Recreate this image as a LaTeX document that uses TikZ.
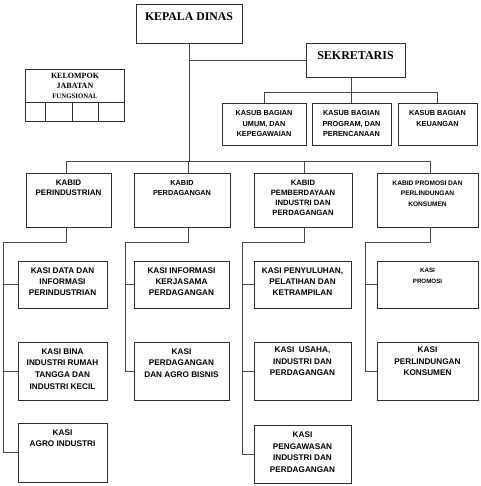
\documentclass[tikz,border=0pt]{standalone}
\usepackage{fontspec}
\setmainfont{Liberation Serif}
\setsansfont{Liberation Sans}
\usetikzlibrary{positioning,calc}
\definecolor{boxcol}{RGB}{45,45,45}
\definecolor{linecol}{RGB}{70,70,70}

\tikzset{
  box/.style={draw=boxcol,line width=0.8pt,fill=white,inner sep=0pt},
  conn/.style={draw=linecol,line width=0.8pt},
  lab/.style={align=center,inner sep=0pt,anchor=north},
  sans/.style 2 args={font=\sffamily\bfseries\fontsize{#1}{#2}\selectfont},
  serif/.style 2 args={font=\rmfamily\bfseries\fontsize{#1}{#2}\selectfont},
}

\begin{document}
\begin{tikzpicture}[x=1pt,y=-1pt]
  \useasboundingbox (0,0) rectangle (480,486);

  % top: kepala dinas and sekretaris
  \node[box,minimum width=106,minimum height=39,
        label={[lab,serif={11.8}{14},yshift=-8.4pt]north:KEPALA DINAS}] (kd) at (189,23.5) {};
  \node[box,minimum width=99,minimum height=34,
        label={[lab,serif={12}{14},yshift=-8.3pt]north:SEKRETARIS}] (sek) at (355.5,60) {};

  % kasub bagian
  \node[box,minimum width=84,minimum height=42,
        label={[lab,sans={7.3}{10.7},yshift=-7.7pt]north:{KASUB BAGIAN\\UMUM, DAN\\KEPEGAWAIAN}}] (sub1) at (264,124) {};
  \node[box,minimum width=79,minimum height=42,
        label={[lab,sans={7.3}{10.7},yshift=-7.7pt]north:{KASUB BAGIAN\\PROGRAM, DAN\\PERENCANAAN}}] (sub2) at (351.5,124) {};
  \node[box,minimum width=79,minimum height=42,
        label={[lab,sans={7.3}{10.7},yshift=-7.7pt]north:{KASUB BAGIAN\\KEUANGAN}}] (sub3) at (437.5,124) {};

  % kelompok jabatan fungsional
  \node[box,minimum width=99,minimum height=33,
        label={[lab,serif={8}{10},yshift=-4.3pt]north:{KELOMPOK\\JABATAN\\{\fontsize{6.8}{8.6}\selectfont FUNGSIONAL}}}] (kjf) at (75,85.5) {};
  \node[box,minimum width=20,minimum height=19] (kjf1) at (35.5,111.5) {};
  \node[box,minimum width=27,minimum height=19] (kjf2) at (59,111.5) {};
  \node[box,minimum width=26,minimum height=19] (kjf3) at (85.5,111.5) {};
  \node[box,minimum width=26,minimum height=19] (kjf4) at (111.5,111.5) {};

  % kabid
  \node[box,minimum width=85,minimum height=54,
        label={[lab,sans={8}{10.5},yshift=-7.1pt]north:{KABID\\PERINDUSTRIAN}}] (bid1) at (68.5,200) {};
  \node[box,minimum width=96,minimum height=54,
        label={[lab,sans={7.3}{10.5},yshift=-7.4pt]north:{KABID\\PERDAGANGAN}}] (bid2) at (182,200) {};
  \node[box,minimum width=98,minimum height=54,
        label={[lab,sans={7.7}{10},yshift=-7.2pt]north:{KABID\\PEMBERDAYAAN\\INDUSTRI DAN\\PERDAGANGAN}}] (bid3) at (303,200) {};
  \node[box,minimum width=101,minimum height=54,
        label={[lab,sans={6.6}{10.5},yshift=-7.6pt]north:{KABID PROMOSI DAN\\PERLINDUNGAN\\KONSUMEN}}] (bid4) at (427.5,200) {};

  % kasi, column 1
  \node[box,minimum width=89,minimum height=47,
        label={[lab,sans={8.2}{11},yshift=-6.8pt]north:{KASI DATA DAN\\INFORMASI\\PERINDUSTRIAN}}] (si1a) at (62.5,284.5) {};
  \node[box,minimum width=89,minimum height=58,
        label={[lab,sans={8.2}{11.6},yshift=-6.8pt]north:{KASI BINA\\INDUSTRI RUMAH\\TANGGA DAN\\INDUSTRI KECIL}}] (si1b) at (62.5,371) {};
  \node[box,minimum width=89,minimum height=59,
        label={[lab,sans={8.2}{11},yshift=-7.4pt]north:{KASI\\AGRO INDUSTRI}}] (si1c) at (62.5,452.5) {};
  % kasi, column 2
  \node[box,minimum width=95,minimum height=47,
        label={[lab,sans={8.2}{11},yshift=-6.8pt]north:{KASI INFORMASI\\KERJASAMA\\PERDAGANGAN}}] (si2a) at (181.5,284.5) {};
  \node[box,minimum width=95,minimum height=58,
        label={[lab,sans={8.2}{11.6},yshift=-6.8pt]north:{KASI\\PERDAGANGAN\\DAN AGRO BISNIS}}] (si2b) at (181.5,371) {};
  % kasi, column 3
  \node[box,minimum width=97,minimum height=47,
        label={[lab,sans={8.2}{11},yshift=-6.8pt]north:{KASI PENYULUHAN,\\PELATIHAN DAN\\KETRAMPILAN}}] (si3a) at (302.5,284.5) {};
  \node[box,minimum width=97,minimum height=58,
        label={[lab,sans={8.2}{11.6},yshift=-5.1pt]north:{KASI\ \ USAHA,\\INDUSTRI DAN\\PERDAGANGAN}}] (si3b) at (302.5,371) {};
  \node[box,minimum width=97,minimum height=58,
        label={[lab,sans={8.2}{11.6},yshift=-7.1pt]north:{KASI\\PENGAWASAN\\INDUSTRI DAN\\PERDAGANGAN}}] (si3c) at (302.5,454) {};
  % kasi, column 4
  \node[box,minimum width=101,minimum height=47,
        label={[lab,sans={6.2}{11},yshift=-6.9pt]north:{KASI\\PROMOSI}}] (si4a) at (427.5,284.5) {};
  \node[box,minimum width=101,minimum height=58,
        label={[lab,sans={8.2}{11.6},yshift=-5.1pt]north:{KASI\\PERLINDUNGAN\\KONSUMEN}}] (si4b) at (427.5,371) {};

  % bus lines
  \coordinate (bus) at (0,161);
  \coordinate (subbus) at (0,92);
  \coordinate (drop1) at (66,242);
  \coordinate (drop2) at (188,242);
  \coordinate (drop3) at (304,242);
  \coordinate (drop4) at (430,242);
  \coordinate (col1) at (3,242);
  \coordinate (col2) at (125,242);
  \coordinate (col3) at (242,242);
  \coordinate (col4) at (365,242);

  \draw[conn] (kd.south) -- (kd.south |- bus);
  \draw[conn] (kd.south |- sek.west) -- (sek.west);
  \draw[conn] (sek.south -| sub2.north) -- (sub2.north);
  \draw[conn] (sub1.north) -- (sub1.north |- subbus) -- (sub3.north |- subbus) -- (sub3.north);
  \draw[conn] (drop1 |- bus) -- (drop4 |- bus);
  \foreach \d/\b in {drop1/bid1,drop2/bid2,drop3/bid3,drop4/bid4}
    \draw[conn] (\d |- bus) -- (\d |- \b.north);

  % kabid down to kasi
  \draw[conn] (drop1 |- bid1.south) -- (drop1) -- (col1) -- (col1 |- si1c.west);
  \draw[conn] (drop2 |- bid2.south) -- (drop2) -- (col2) -- (col2 |- si2b.west);
  \draw[conn] (drop3 |- bid3.south) -- (drop3) -- (col3) -- (col3 |- si3c.west);
  \draw[conn] (drop4 |- bid4.south) -- (drop4) -- (col4) -- (col4 |- si4b.west);
  \foreach \c/\s in {col1/si1a,col1/si1b,col1/si1c,col2/si2a,col2/si2b,
                     col3/si3a,col3/si3b,col3/si3c,col4/si4a,col4/si4b}
    \draw[conn] (\c |- \s.west) -- (\s.west);
\end{tikzpicture}
\end{document}
